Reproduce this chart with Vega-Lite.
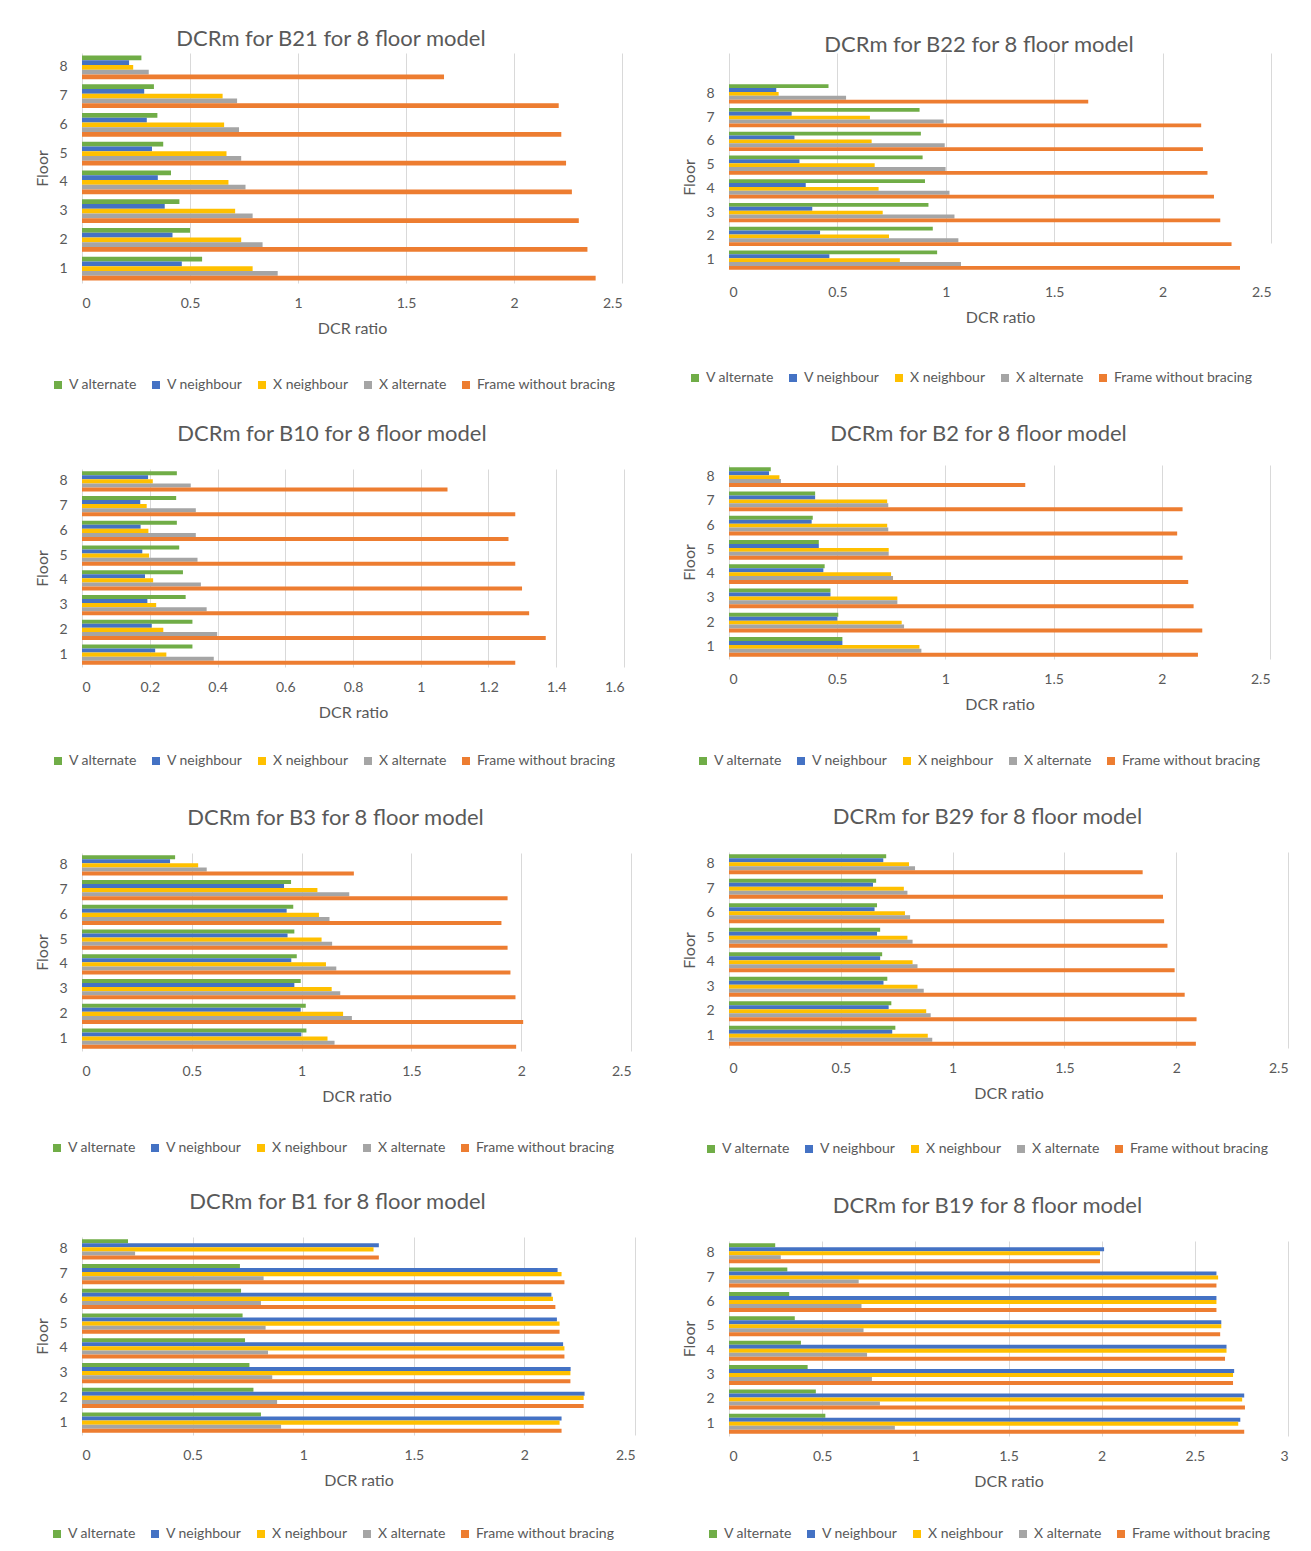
{
"$schema": "https://vega.github.io/schema/vega-lite/v6.json",
"background": "white",
"padding": {"left": 34, "top": 28, "right": 5, "bottom": 5},
"config": {
 "view": {"stroke": null},
 "title": {"font": "Lato", "fontSize": 22, "fontWeight": "normal", "color": "#595959", "anchor": "middle", "dx": -21},
 "axis": {"labelColor": "#595959", "titleColor": "#595959", "labelFont": "Lato", "titleFont": "Lato", "labelFontSize": 14, "titleFontSize": 16, "titleFontWeight": "normal", "domain": false, "ticks": false, "gridColor": "#D9D9D9"},
 "axisY": {"labelPadding": 15, "titlePadding": 8, "grid": false},
 "axisX": {"labelPadding": 13, "titlePadding": 10, "grid": true, "format": "~g"},
 "legend": {"labelFont": "Lato", "labelFontSize": 14, "labelColor": "#595959", "symbolType": "square", "symbolSize": 64, "symbolStrokeWidth": 0, "columnPadding": 12, "labelOffset": 4, "orient": "none", "direction": "horizontal"}
},
"datasets": {
 "B21": [
  {"floor":1,"series":"V alternate","value":0.556},{"floor":1,"series":"V neighbour","value":0.462},{"floor":1,"series":"X neighbour","value":0.790},{"floor":1,"series":"X alternate","value":0.906},{"floor":1,"series":"Frame without bracing","value":2.378},
  {"floor":2,"series":"V alternate","value":0.500},{"floor":2,"series":"V neighbour","value":0.419},{"floor":2,"series":"X neighbour","value":0.737},{"floor":2,"series":"X alternate","value":0.836},{"floor":2,"series":"Frame without bracing","value":2.340},
  {"floor":3,"series":"V alternate","value":0.451},{"floor":3,"series":"V neighbour","value":0.383},{"floor":3,"series":"X neighbour","value":0.709},{"floor":3,"series":"X alternate","value":0.790},{"floor":3,"series":"Frame without bracing","value":2.300},
  {"floor":4,"series":"V alternate","value":0.412},{"floor":4,"series":"V neighbour","value":0.351},{"floor":4,"series":"X neighbour","value":0.678},{"floor":4,"series":"X alternate","value":0.757},{"floor":4,"series":"Frame without bracing","value":2.268},
  {"floor":5,"series":"V alternate","value":0.376},{"floor":5,"series":"V neighbour","value":0.324},{"floor":5,"series":"X neighbour","value":0.669},{"floor":5,"series":"X alternate","value":0.737},{"floor":5,"series":"Frame without bracing","value":2.241},
  {"floor":6,"series":"V alternate","value":0.349},{"floor":6,"series":"V neighbour","value":0.300},{"floor":6,"series":"X neighbour","value":0.658},{"floor":6,"series":"X alternate","value":0.727},{"floor":6,"series":"Frame without bracing","value":2.219},
  {"floor":7,"series":"V alternate","value":0.333},{"floor":7,"series":"V neighbour","value":0.288},{"floor":7,"series":"X neighbour","value":0.651},{"floor":7,"series":"X alternate","value":0.718},{"floor":7,"series":"Frame without bracing","value":2.207},
  {"floor":8,"series":"V alternate","value":0.275},{"floor":8,"series":"V neighbour","value":0.218},{"floor":8,"series":"X neighbour","value":0.237},{"floor":8,"series":"X alternate","value":0.309},{"floor":8,"series":"Frame without bracing","value":1.676}
 ],
 "B22": [
  {"floor":1,"series":"V alternate","value":0.960},{"floor":1,"series":"V neighbour","value":0.463},{"floor":1,"series":"X neighbour","value":0.788},{"floor":1,"series":"X alternate","value":1.070},{"floor":1,"series":"Frame without bracing","value":2.357},
  {"floor":2,"series":"V alternate","value":0.940},{"floor":2,"series":"V neighbour","value":0.420},{"floor":2,"series":"X neighbour","value":0.738},{"floor":2,"series":"X alternate","value":1.058},{"floor":2,"series":"Frame without bracing","value":2.318},
  {"floor":3,"series":"V alternate","value":0.920},{"floor":3,"series":"V neighbour","value":0.384},{"floor":3,"series":"X neighbour","value":0.709},{"floor":3,"series":"X alternate","value":1.040},{"floor":3,"series":"Frame without bracing","value":2.266},
  {"floor":4,"series":"V alternate","value":0.904},{"floor":4,"series":"V neighbour","value":0.354},{"floor":4,"series":"X neighbour","value":0.690},{"floor":4,"series":"X alternate","value":1.017},{"floor":4,"series":"Frame without bracing","value":2.237},
  {"floor":5,"series":"V alternate","value":0.893},{"floor":5,"series":"V neighbour","value":0.325},{"floor":5,"series":"X neighbour","value":0.672},{"floor":5,"series":"X alternate","value":0.999},{"floor":5,"series":"Frame without bracing","value":2.207},
  {"floor":6,"series":"V alternate","value":0.885},{"floor":6,"series":"V neighbour","value":0.302},{"floor":6,"series":"X neighbour","value":0.658},{"floor":6,"series":"X alternate","value":0.995},{"floor":6,"series":"Frame without bracing","value":2.186},
  {"floor":7,"series":"V alternate","value":0.879},{"floor":7,"series":"V neighbour","value":0.289},{"floor":7,"series":"X neighbour","value":0.650},{"floor":7,"series":"X alternate","value":0.990},{"floor":7,"series":"Frame without bracing","value":2.178},
  {"floor":8,"series":"V alternate","value":0.459},{"floor":8,"series":"V neighbour","value":0.218},{"floor":8,"series":"X neighbour","value":0.229},{"floor":8,"series":"X alternate","value":0.540},{"floor":8,"series":"Frame without bracing","value":1.657}
 ],
 "B10": [
  {"floor":1,"series":"V alternate","value":0.326},{"floor":1,"series":"V neighbour","value":0.216},{"floor":1,"series":"X neighbour","value":0.249},{"floor":1,"series":"X alternate","value":0.389},{"floor":1,"series":"Frame without bracing","value":1.279},
  {"floor":2,"series":"V alternate","value":0.326},{"floor":2,"series":"V neighbour","value":0.206},{"floor":2,"series":"X neighbour","value":0.240},{"floor":2,"series":"X alternate","value":0.399},{"floor":2,"series":"Frame without bracing","value":1.369},
  {"floor":3,"series":"V alternate","value":0.306},{"floor":3,"series":"V neighbour","value":0.193},{"floor":3,"series":"X neighbour","value":0.219},{"floor":3,"series":"X alternate","value":0.368},{"floor":3,"series":"Frame without bracing","value":1.320},
  {"floor":4,"series":"V alternate","value":0.298},{"floor":4,"series":"V neighbour","value":0.186},{"floor":4,"series":"X neighbour","value":0.210},{"floor":4,"series":"X alternate","value":0.351},{"floor":4,"series":"Frame without bracing","value":1.299},
  {"floor":5,"series":"V alternate","value":0.287},{"floor":5,"series":"V neighbour","value":0.178},{"floor":5,"series":"X neighbour","value":0.198},{"floor":5,"series":"X alternate","value":0.341},{"floor":5,"series":"Frame without bracing","value":1.279},
  {"floor":6,"series":"V alternate","value":0.280},{"floor":6,"series":"V neighbour","value":0.173},{"floor":6,"series":"X neighbour","value":0.196},{"floor":6,"series":"X alternate","value":0.336},{"floor":6,"series":"Frame without bracing","value":1.259},
  {"floor":7,"series":"V alternate","value":0.278},{"floor":7,"series":"V neighbour","value":0.172},{"floor":7,"series":"X neighbour","value":0.191},{"floor":7,"series":"X alternate","value":0.336},{"floor":7,"series":"Frame without bracing","value":1.279},
  {"floor":8,"series":"V alternate","value":0.280},{"floor":8,"series":"V neighbour","value":0.195},{"floor":8,"series":"X neighbour","value":0.209},{"floor":8,"series":"X alternate","value":0.321},{"floor":8,"series":"Frame without bracing","value":1.079}
 ],
 "B2": [
  {"floor":1,"series":"V alternate","value":0.524},{"floor":1,"series":"V neighbour","value":0.524},{"floor":1,"series":"X neighbour","value":0.880},{"floor":1,"series":"X alternate","value":0.889},{"floor":1,"series":"Frame without bracing","value":2.167},
  {"floor":2,"series":"V alternate","value":0.505},{"floor":2,"series":"V neighbour","value":0.500},{"floor":2,"series":"X neighbour","value":0.798},{"floor":2,"series":"X alternate","value":0.809},{"floor":2,"series":"Frame without bracing","value":2.187},
  {"floor":3,"series":"V alternate","value":0.469},{"floor":3,"series":"V neighbour","value":0.469},{"floor":3,"series":"X neighbour","value":0.778},{"floor":3,"series":"X alternate","value":0.778},{"floor":3,"series":"Frame without bracing","value":2.147},
  {"floor":4,"series":"V alternate","value":0.442},{"floor":4,"series":"V neighbour","value":0.436},{"floor":4,"series":"X neighbour","value":0.749},{"floor":4,"series":"X alternate","value":0.758},{"floor":4,"series":"Frame without bracing","value":2.122},
  {"floor":5,"series":"V alternate","value":0.415},{"floor":5,"series":"V neighbour","value":0.415},{"floor":5,"series":"X neighbour","value":0.738},{"floor":5,"series":"X alternate","value":0.738},{"floor":5,"series":"Frame without bracing","value":2.096},
  {"floor":6,"series":"V alternate","value":0.387},{"floor":6,"series":"V neighbour","value":0.382},{"floor":6,"series":"X neighbour","value":0.731},{"floor":6,"series":"X alternate","value":0.736},{"floor":6,"series":"Frame without bracing","value":2.071},
  {"floor":7,"series":"V alternate","value":0.398},{"floor":7,"series":"V neighbour","value":0.398},{"floor":7,"series":"X neighbour","value":0.731},{"floor":7,"series":"X alternate","value":0.736},{"floor":7,"series":"Frame without bracing","value":2.096},
  {"floor":8,"series":"V alternate","value":0.193},{"floor":8,"series":"V neighbour","value":0.185},{"floor":8,"series":"X neighbour","value":0.233},{"floor":8,"series":"X alternate","value":0.240},{"floor":8,"series":"Frame without bracing","value":1.369}
 ],
 "B3": [
  {"floor":1,"series":"V alternate","value":1.022},{"floor":1,"series":"V neighbour","value":0.999},{"floor":1,"series":"X neighbour","value":1.118},{"floor":1,"series":"X alternate","value":1.150},{"floor":1,"series":"Frame without bracing","value":1.977},
  {"floor":2,"series":"V alternate","value":1.019},{"floor":2,"series":"V neighbour","value":0.996},{"floor":2,"series":"X neighbour","value":1.189},{"floor":2,"series":"X alternate","value":1.229},{"floor":2,"series":"Frame without bracing","value":2.009},
  {"floor":3,"series":"V alternate","value":0.996},{"floor":3,"series":"V neighbour","value":0.967},{"floor":3,"series":"X neighbour","value":1.137},{"floor":3,"series":"X alternate","value":1.176},{"floor":3,"series":"Frame without bracing","value":1.974},
  {"floor":4,"series":"V alternate","value":0.978},{"floor":4,"series":"V neighbour","value":0.953},{"floor":4,"series":"X neighbour","value":1.111},{"floor":4,"series":"X alternate","value":1.158},{"floor":4,"series":"Frame without bracing","value":1.951},
  {"floor":5,"series":"V alternate","value":0.967},{"floor":5,"series":"V neighbour","value":0.936},{"floor":5,"series":"X neighbour","value":1.091},{"floor":5,"series":"X alternate","value":1.139},{"floor":5,"series":"Frame without bracing","value":1.938},
  {"floor":6,"series":"V alternate","value":0.962},{"floor":6,"series":"V neighbour","value":0.932},{"floor":6,"series":"X neighbour","value":1.079},{"floor":6,"series":"X alternate","value":1.127},{"floor":6,"series":"Frame without bracing","value":1.910},
  {"floor":7,"series":"V alternate","value":0.952},{"floor":7,"series":"V neighbour","value":0.920},{"floor":7,"series":"X neighbour","value":1.072},{"floor":7,"series":"X alternate","value":1.217},{"floor":7,"series":"Frame without bracing","value":1.938},
  {"floor":8,"series":"V alternate","value":0.424},{"floor":8,"series":"V neighbour","value":0.401},{"floor":8,"series":"X neighbour","value":0.529},{"floor":8,"series":"X alternate","value":0.568},{"floor":8,"series":"Frame without bracing","value":1.238}
 ],
 "B29": [
  {"floor":1,"series":"V alternate","value":0.744},{"floor":1,"series":"V neighbour","value":0.730},{"floor":1,"series":"X neighbour","value":0.889},{"floor":1,"series":"X alternate","value":0.909},{"floor":1,"series":"Frame without bracing","value":2.088},
  {"floor":2,"series":"V alternate","value":0.726},{"floor":2,"series":"V neighbour","value":0.714},{"floor":2,"series":"X neighbour","value":0.882},{"floor":2,"series":"X alternate","value":0.902},{"floor":2,"series":"Frame without bracing","value":2.091},
  {"floor":3,"series":"V alternate","value":0.708},{"floor":3,"series":"V neighbour","value":0.691},{"floor":3,"series":"X neighbour","value":0.843},{"floor":3,"series":"X alternate","value":0.871},{"floor":3,"series":"Frame without bracing","value":2.038},
  {"floor":4,"series":"V alternate","value":0.685},{"floor":4,"series":"V neighbour","value":0.676},{"floor":4,"series":"X neighbour","value":0.821},{"floor":4,"series":"X alternate","value":0.843},{"floor":4,"series":"Frame without bracing","value":1.993},
  {"floor":5,"series":"V alternate","value":0.676},{"floor":5,"series":"V neighbour","value":0.662},{"floor":5,"series":"X neighbour","value":0.798},{"floor":5,"series":"X alternate","value":0.821},{"floor":5,"series":"Frame without bracing","value":1.961},
  {"floor":6,"series":"V alternate","value":0.662},{"floor":6,"series":"V neighbour","value":0.651},{"floor":6,"series":"X neighbour","value":0.787},{"floor":6,"series":"X alternate","value":0.810},{"floor":6,"series":"Frame without bracing","value":1.946},
  {"floor":7,"series":"V alternate","value":0.658},{"floor":7,"series":"V neighbour","value":0.644},{"floor":7,"series":"X neighbour","value":0.782},{"floor":7,"series":"X alternate","value":0.798},{"floor":7,"series":"Frame without bracing","value":1.941},
  {"floor":8,"series":"V alternate","value":0.703},{"floor":8,"series":"V neighbour","value":0.690},{"floor":8,"series":"X neighbour","value":0.805},{"floor":8,"series":"X alternate","value":0.832},{"floor":8,"series":"Frame without bracing","value":1.850}
 ],
 "B1": [
  {"floor":1,"series":"V alternate","value":0.809},{"floor":1,"series":"V neighbour","value":2.168},{"floor":1,"series":"X neighbour","value":2.159},{"floor":1,"series":"X alternate","value":0.900},{"floor":1,"series":"Frame without bracing","value":2.168},
  {"floor":2,"series":"V alternate","value":0.775},{"floor":2,"series":"V neighbour","value":2.272},{"floor":2,"series":"X neighbour","value":2.268},{"floor":2,"series":"X alternate","value":0.882},{"floor":2,"series":"Frame without bracing","value":2.268},
  {"floor":3,"series":"V alternate","value":0.757},{"floor":3,"series":"V neighbour","value":2.209},{"floor":3,"series":"X neighbour","value":2.208},{"floor":3,"series":"X alternate","value":0.860},{"floor":3,"series":"Frame without bracing","value":2.208},
  {"floor":4,"series":"V alternate","value":0.737},{"floor":4,"series":"V neighbour","value":2.175},{"floor":4,"series":"X neighbour","value":2.181},{"floor":4,"series":"X alternate","value":0.841},{"floor":4,"series":"Frame without bracing","value":2.181},
  {"floor":5,"series":"V alternate","value":0.726},{"floor":5,"series":"V neighbour","value":2.147},{"floor":5,"series":"X neighbour","value":2.159},{"floor":5,"series":"X alternate","value":0.830},{"floor":5,"series":"Frame without bracing","value":2.159},
  {"floor":6,"series":"V alternate","value":0.719},{"floor":6,"series":"V neighbour","value":2.122},{"floor":6,"series":"X neighbour","value":2.129},{"floor":6,"series":"X alternate","value":0.809},{"floor":6,"series":"Frame without bracing","value":2.140},
  {"floor":7,"series":"V alternate","value":0.714},{"floor":7,"series":"V neighbour","value":2.150},{"floor":7,"series":"X neighbour","value":2.168},{"floor":7,"series":"X alternate","value":0.821},{"floor":7,"series":"Frame without bracing","value":2.181},
  {"floor":8,"series":"V alternate","value":0.208},{"floor":8,"series":"V neighbour","value":1.342},{"floor":8,"series":"X neighbour","value":1.318},{"floor":8,"series":"X alternate","value":0.240},{"floor":8,"series":"Frame without bracing","value":1.342}
 ],
 "B19": [
  {"floor":1,"series":"V alternate","value":0.517},{"floor":1,"series":"V neighbour","value":2.744},{"floor":1,"series":"X neighbour","value":2.733},{"floor":1,"series":"X alternate","value":0.890},{"floor":1,"series":"Frame without bracing","value":2.765},
  {"floor":2,"series":"V alternate","value":0.466},{"floor":2,"series":"V neighbour","value":2.765},{"floor":2,"series":"X neighbour","value":2.754},{"floor":2,"series":"X alternate","value":0.810},{"floor":2,"series":"Frame without bracing","value":2.769},
  {"floor":3,"series":"V alternate","value":0.422},{"floor":3,"series":"V neighbour","value":2.711},{"floor":3,"series":"X neighbour","value":2.705},{"floor":3,"series":"X alternate","value":0.767},{"floor":3,"series":"Frame without bracing","value":2.705},
  {"floor":4,"series":"V alternate","value":0.386},{"floor":4,"series":"V neighbour","value":2.670},{"floor":4,"series":"X neighbour","value":2.670},{"floor":4,"series":"X alternate","value":0.741},{"floor":4,"series":"Frame without bracing","value":2.662},
  {"floor":5,"series":"V alternate","value":0.353},{"floor":5,"series":"V neighbour","value":2.642},{"floor":5,"series":"X neighbour","value":2.642},{"floor":5,"series":"X alternate","value":0.722},{"floor":5,"series":"Frame without bracing","value":2.636},
  {"floor":6,"series":"V alternate","value":0.323},{"floor":6,"series":"V neighbour","value":2.616},{"floor":6,"series":"X neighbour","value":2.616},{"floor":6,"series":"X alternate","value":0.711},{"floor":6,"series":"Frame without bracing","value":2.616},
  {"floor":7,"series":"V alternate","value":0.313},{"floor":7,"series":"V neighbour","value":2.616},{"floor":7,"series":"X neighbour","value":2.625},{"floor":7,"series":"X alternate","value":0.696},{"floor":7,"series":"Frame without bracing","value":2.616},
  {"floor":8,"series":"V alternate","value":0.248},{"floor":8,"series":"V neighbour","value":2.013},{"floor":8,"series":"X neighbour","value":1.991},{"floor":8,"series":"X alternate","value":0.278},{"floor":8,"series":"Frame without bracing","value":1.991}
 ]
},
"resolve": {"scale": {"color": "independent", "x": "independent", "y": "independent", "yOffset": "independent"}, "legend": {"color": "independent"}},
"spacing": 46,
"hconcat": [
 {
  "vconcat": [
   {"title": {"text": "DCRm for B21 for 8 floor model", "offset": 2}, "width": 540, "height": 230, "data": {"name": "B21"}, "mark": "bar",
    "encoding": {
     "y": {"field": "floor", "type": "ordinal", "sort": "descending", "scale": {"paddingInner": 0.18, "paddingOuter": 0.09}, "axis": {"title": "Floor"}},
     "yOffset": {"field": "series", "type": "nominal", "sort": ["V alternate", "V neighbour", "X neighbour", "X alternate", "Frame without bracing"], "scale": {"paddingInner": 0, "paddingOuter": 0}},
     "x": {"field": "value", "type": "quantitative", "scale": {"domain": [0, 2.5], "nice": false}, "axis": {"title": "DCR ratio", "values": [0, 0.5, 1, 1.5, 2, 2.5]}},
     "color": {"field": "series", "type": "nominal", "scale": {"domain": ["V alternate", "V neighbour", "X neighbour", "X alternate", "Frame without bracing"], "range": ["#70AD47", "#4472C4", "#FFC000", "#A5A5A5", "#ED7D31"]}, "legend": {"title": null, "legendX": -31, "legendY": 325}}
    }},
   {"title": {"text": "DCRm for B10 for 8 floor model", "offset": 23}, "width": 542, "height": 198, "data": {"name": "B10"}, "mark": "bar",
    "encoding": {
     "y": {"field": "floor", "type": "ordinal", "sort": "descending", "scale": {"paddingInner": 0.18, "paddingOuter": 0.09}, "axis": {"title": "Floor"}},
     "yOffset": {"field": "series", "type": "nominal", "sort": ["V alternate", "V neighbour", "X neighbour", "X alternate", "Frame without bracing"], "scale": {"paddingInner": 0, "paddingOuter": 0}},
     "x": {"field": "value", "type": "quantitative", "scale": {"domain": [0, 1.6], "nice": false}, "axis": {"title": "DCR ratio", "values": [0, 0.2, 0.4, 0.6, 0.8, 1, 1.2, 1.4, 1.6]}},
     "color": {"field": "series", "type": "nominal", "scale": {"domain": ["V alternate", "V neighbour", "X neighbour", "X alternate", "Frame without bracing"], "range": ["#70AD47", "#4472C4", "#FFC000", "#A5A5A5", "#ED7D31"]}, "legend": {"title": null, "legendX": -31, "legendY": 285}}
    }},
   {"title": {"text": "DCRm for B3 for 8 floor model", "offset": 23}, "width": 549, "height": 198, "data": {"name": "B3"}, "mark": "bar",
    "encoding": {
     "y": {"field": "floor", "type": "ordinal", "sort": "descending", "scale": {"paddingInner": 0.18, "paddingOuter": 0.09}, "axis": {"title": "Floor"}},
     "yOffset": {"field": "series", "type": "nominal", "sort": ["V alternate", "V neighbour", "X neighbour", "X alternate", "Frame without bracing"], "scale": {"paddingInner": 0, "paddingOuter": 0}},
     "x": {"field": "value", "type": "quantitative", "scale": {"domain": [0, 2.5], "nice": false}, "axis": {"title": "DCR ratio", "values": [0, 0.5, 1, 1.5, 2, 2.5]}},
     "color": {"field": "series", "type": "nominal", "scale": {"domain": ["V alternate", "V neighbour", "X neighbour", "X alternate", "Frame without bracing"], "range": ["#70AD47", "#4472C4", "#FFC000", "#A5A5A5", "#ED7D31"]}, "legend": {"title": null, "legendX": -32, "legendY": 288}}
    }},
   {"title": {"text": "DCRm for B1 for 8 floor model", "offset": 23}, "width": 553, "height": 198, "data": {"name": "B1"}, "mark": "bar",
    "encoding": {
     "y": {"field": "floor", "type": "ordinal", "sort": "descending", "scale": {"paddingInner": 0.18, "paddingOuter": 0.09}, "axis": {"title": "Floor"}},
     "yOffset": {"field": "series", "type": "nominal", "sort": ["V alternate", "V neighbour", "X neighbour", "X alternate", "Frame without bracing"], "scale": {"paddingInner": 0, "paddingOuter": 0}},
     "x": {"field": "value", "type": "quantitative", "scale": {"domain": [0, 2.5], "nice": false}, "axis": {"title": "DCR ratio", "values": [0, 0.5, 1, 1.5, 2, 2.5]}},
     "color": {"field": "series", "type": "nominal", "scale": {"domain": ["V alternate", "V neighbour", "X neighbour", "X alternate", "Frame without bracing"], "range": ["#70AD47", "#4472C4", "#FFC000", "#A5A5A5", "#ED7D31"]}, "legend": {"title": null, "legendX": -32, "legendY": 290}}
    }}
  ],
  "spacing": 186, "bounds": "flush",
  "resolve": {"scale": {"color": "independent", "x": "independent", "y": "independent", "yOffset": "independent"}, "legend": {"color": "independent"}}
 },
 {
  "vconcat": [
   {"title": {"text": "DCRm for B22 for 8 floor model", "offset": -4}, "width": 542, "height": 219, "data": {"name": "B22"}, "mark": "bar",
    "encoding": {
     "y": {"field": "floor", "type": "ordinal", "sort": "descending", "scale": {"paddingInner": 0.18, "paddingOuter": 0.09, "range": [29, 219]}, "axis": {"title": "Floor"}},
     "yOffset": {"field": "series", "type": "nominal", "sort": ["V alternate", "V neighbour", "X neighbour", "X alternate", "Frame without bracing"], "scale": {"paddingInner": 0, "paddingOuter": 0}},
     "x": {"field": "value", "type": "quantitative", "scale": {"domain": [0, 2.5], "nice": false}, "axis": {"title": "DCR ratio", "values": [0, 0.5, 1, 1.5, 2, 2.5]}},
     "color": {"field": "series", "type": "nominal", "scale": {"domain": ["V alternate", "V neighbour", "X neighbour", "X alternate", "Frame without bracing"], "range": ["#70AD47", "#4472C4", "#FFC000", "#A5A5A5", "#ED7D31"]}, "legend": {"title": null, "legendX": -41, "legendY": 318}}
    }},
   {"title": {"text": "DCRm for B2 for 8 floor model", "offset": 19}, "width": 541, "height": 194, "data": {"name": "B2"}, "mark": "bar",
    "encoding": {
     "y": {"field": "floor", "type": "ordinal", "sort": "descending", "scale": {"paddingInner": 0.18, "paddingOuter": 0.09}, "axis": {"title": "Floor"}},
     "yOffset": {"field": "series", "type": "nominal", "sort": ["V alternate", "V neighbour", "X neighbour", "X alternate", "Frame without bracing"], "scale": {"paddingInner": 0, "paddingOuter": 0}},
     "x": {"field": "value", "type": "quantitative", "scale": {"domain": [0, 2.5], "nice": false}, "axis": {"title": "DCR ratio", "values": [0, 0.5, 1, 1.5, 2, 2.5]}},
     "color": {"field": "series", "type": "nominal", "scale": {"domain": ["V alternate", "V neighbour", "X neighbour", "X alternate", "Frame without bracing"], "range": ["#70AD47", "#4472C4", "#FFC000", "#A5A5A5", "#ED7D31"]}, "legend": {"title": null, "legendX": -33, "legendY": 289}}
    }},
   {"title": {"text": "DCRm for B29 for 8 floor model", "offset": 23}, "width": 559, "height": 196, "data": {"name": "B29"}, "mark": "bar",
    "encoding": {
     "y": {"field": "floor", "type": "ordinal", "sort": "descending", "scale": {"paddingInner": 0.18, "paddingOuter": 0.09}, "axis": {"title": "Floor"}},
     "yOffset": {"field": "series", "type": "nominal", "sort": ["V alternate", "V neighbour", "X neighbour", "X alternate", "Frame without bracing"], "scale": {"paddingInner": 0, "paddingOuter": 0}},
     "x": {"field": "value", "type": "quantitative", "scale": {"domain": [0, 2.5], "nice": false}, "axis": {"title": "DCR ratio", "values": [0, 0.5, 1, 1.5, 2, 2.5]}},
     "color": {"field": "series", "type": "nominal", "scale": {"domain": ["V alternate", "V neighbour", "X neighbour", "X alternate", "Frame without bracing"], "range": ["#70AD47", "#4472C4", "#FFC000", "#A5A5A5", "#ED7D31"]}, "legend": {"title": null, "legendX": -25, "legendY": 290}}
    }},
   {"title": {"text": "DCRm for B19 for 8 floor model", "offset": 23}, "width": 559, "height": 195, "data": {"name": "B19"}, "mark": "bar",
    "encoding": {
     "y": {"field": "floor", "type": "ordinal", "sort": "descending", "scale": {"paddingInner": 0.18, "paddingOuter": 0.09}, "axis": {"title": "Floor"}},
     "yOffset": {"field": "series", "type": "nominal", "sort": ["V alternate", "V neighbour", "X neighbour", "X alternate", "Frame without bracing"], "scale": {"paddingInner": 0, "paddingOuter": 0}},
     "x": {"field": "value", "type": "quantitative", "scale": {"domain": [0, 3], "nice": false}, "axis": {"title": "DCR ratio", "values": [0, 0.5, 1, 1.5, 2, 2.5, 3]}},
     "color": {"field": "series", "type": "nominal", "scale": {"domain": ["V alternate", "V neighbour", "X neighbour", "X alternate", "Frame without bracing"], "range": ["#70AD47", "#4472C4", "#FFC000", "#A5A5A5", "#ED7D31"]}, "legend": {"title": null, "legendX": -23, "legendY": 286}}
    }}
  ],
  "spacing": 193, "bounds": "flush",
  "resolve": {"scale": {"color": "independent", "x": "independent", "y": "independent", "yOffset": "independent"}, "legend": {"color": "independent"}}
 }
]
}
